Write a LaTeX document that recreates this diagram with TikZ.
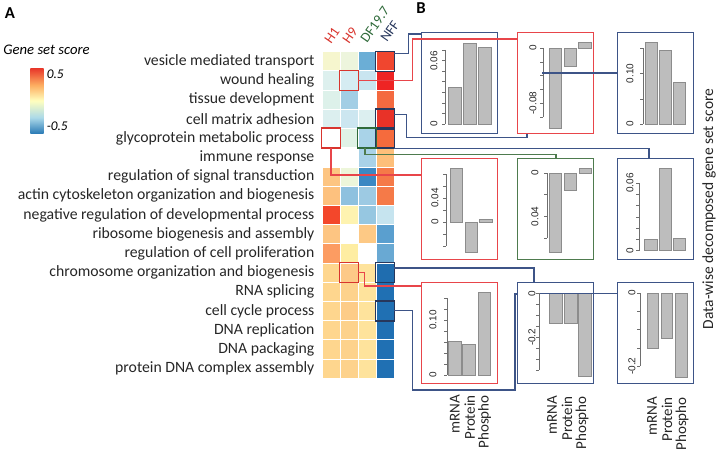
\documentclass[tikz,border=0pt]{standalone}
\usepackage{fontspec}
\setmainfont{Carlito}
\newfontfamily\arialfont{Liberation Sans}
\usetikzlibrary{positioning}

\definecolor{cnavy}{HTML}{3D5487}
\definecolor{cred}{HTML}{E8454A}
\definecolor{cgreen}{HTML}{4E7B4E}
\definecolor{hnavy}{HTML}{27375C}
\definecolor{hred}{HTML}{D8352E}
\definecolor{hgreen}{HTML}{2F6A3A}
\definecolor{bargrey}{HTML}{BDBDBD}
\definecolor{axisgrey}{HTML}{6E6E6E}
\definecolor{sc1}{HTML}{2C7BB6}
\definecolor{sc2}{HTML}{ABD9E9}
\definecolor{sc3}{HTML}{FFFFBF}
\definecolor{sc4}{HTML}{FDAE61}
\definecolor{sc5}{HTML}{E8372A}
\pgfdeclareverticalshading{gsscore}{100bp}{color(0bp)=(sc1); color(25bp)=(sc1);
  color(37bp)=(sc2); color(50bp)=(sc3); color(62bp)=(sc4); color(75bp)=(sc5); color(100bp)=(sc5)}

\tikzset{
  cell/.style={draw=white, line width=0.6pt, minimum width=13.5pt, minimum height=14.4pt, inner sep=0pt},
  rowlab/.style={font=\fontsize{11.8}{13}\selectfont, inner sep=0pt, text=black!85},
  colhead/.style={rotate=55, anchor=base west, inner sep=0pt, font=\fontsize{10.5}{12}\selectfont},
  hl/.style={draw=#1, line width=1.1pt},
  chart/.style={draw=#1, line width=0.9pt, minimum width=57pt, minimum height=75.75pt, inner sep=0pt, anchor=north west},
  bar/.style={fill=bargrey, draw=black!45, line width=0.4pt},
  axis/.style={draw=axisgrey, line width=0.4pt},
  ticklab/.style={rotate=90, inner sep=0pt, font=\arialfont\fontsize{7.5}{8}\selectfont, text=black!85},
  xlab/.style={rotate=90, anchor=east, inner sep=0pt, font=\fontsize{11.3}{13}\selectfont, text=black!85},
  link/.style={draw=#1, line width=0.8pt},
  panel/.style={font=\bfseries\fontsize{12.5}{14}\selectfont}
}

\begin{document}
\begin{tikzpicture}[x=0.75pt, y=-0.75pt]
\useasboundingbox (0,0) rectangle (720,453);

% panel A: legend
\node[panel] (pA) at (10,13) {A};
\node[font=\itshape\fontsize{11}{12}\selectfont] (lgt) at (46.5,50) {Gene set score};
\node[shading=gsscore, minimum width=10pt, minimum height=48.75pt, inner sep=0pt, anchor=north west] (cbar) at (30,68) {};
\node[font=\itshape\fontsize{10}{11}\selectfont, anchor=west, inner sep=0pt] (lmax) at (46.5,74) {0.5};
\node[font=\itshape\fontsize{10}{11}\selectfont, anchor=west, inner sep=0pt] (lmin) at (46.5,126) {-0.5};

% heatmap
\foreach \r/\a/\b/\c/\d/\t in {
  1/F6F6CE/EDF5DD/6BAED6/F0462F/vesicle mediated transport,
  2/DDF0EE/D5ECF2/C9E5F0/EE2424/wound healing,
  3/DDF1EA/A3CEE5/FFFFFF/F46A40/tissue development,
  4/DCEFEF/CCE6F0/DCEFF0/E83228/cell matrix adhesion,
  5/FFFFFF/E0F2E6/A9D3E8/F56B3D/glycoprotein metabolic process,
  6/FFFFFF/FFFFFF/A9D2E8/FDBF7A/immune response,
  7/FDC582/EDF6DA/3B88C3/F57A48/regulation of signal transduction,
  8/FDC17E/8EC1DF/9DCAE3/F57A48/actin cytoskeleton organization and biogenesis,
  9/F3472B/FEF3B0/96C7E1/C6E4EF/negative regulation of developmental process,
  10/FDC582/FFFFFF/FDC985/5A9FCF/ribosome biogenesis and assembly,
  11/FC9C62/FEEDA2/FFFFFF/69A9D3/regulation of cell proliferation,
  12/FED68E/FDC987/FEE39C/1F6DAF/chromosome organization and biogenesis,
  13/FED68E/FDD28C/FEE39C/2070B3/RNA splicing,
  14/FED68E/FDCC88/FEE39C/2070B3/cell cycle process,
  15/FED68E/FDD28C/FEE39C/2070B3/DNA replication,
  16/FED68E/FDD28C/FEE39C/2070B3/DNA packaging,
  17/FED68E/FDD28C/FEE39C/2070B3/protein DNA complex assembly} {
  \definecolor{ca}{HTML}{\a}\definecolor{cb}{HTML}{\b}
  \definecolor{cc}{HTML}{\c}\definecolor{cd}{HTML}{\d}
  \node[cell, fill=ca] (c-\r-1) at (331,{42.1+19.2*\r}) {};
  \node[cell, fill=cb] (c-\r-2) at (349,{42.1+19.2*\r}) {};
  \node[cell, fill=cc] (c-\r-3) at (367,{42.1+19.2*\r}) {};
  \node[cell, fill=cd] (c-\r-4) at (385,{42.1+19.2*\r}) {};
  \node[rowlab, left=5.25pt of c-\r-1] (r\r) {\t};
}
\node[colhead, text=hred] (hH1) at (331,45) {H1};
\node[colhead, text=hred] (hH9) at (349,45) {H9};
\node[colhead, text=hgreen] (hDF) at (367,44) {DF19.7};
\node[colhead, text=hnavy] (hNFF) at (387,43) {NFF};

% highlighted cells
\foreach \c in {c-1-4, c-4-4, c-5-4, c-12-4, c-14-4}
  \draw[hl=hnavy] (\c.north west) rectangle (\c.south east);
\foreach \c in {c-2-2, c-5-1, c-12-2}
  \draw[hl=hred] (\c.north west) rectangle (\c.south east);
\draw[hl=hgreen] (c-5-3.north west) rectangle (c-5-3.south east);

% panel B: bar charts
\node[panel] (pB) at (421,8) {B};
\node[chart=cnavy] (b11) at (421,32) {};
\node[chart=cred] (b21) at (517,32) {};
\node[chart=cnavy] (b31) at (617,32) {};
\node[chart=cred] (b12) at (421,158) {};
\node[chart=cgreen] (b22) at (517,158) {};
\node[chart=cnavy] (b32) at (617,158) {};
\node[chart=cred] (b13) at (421,282) {};
\node[chart=cnavy] (b23) at (517,282) {};
\node[chart=cnavy] (b33) at (617,282) {};

\begin{scope}[shift={(b11.north west)}]
  \draw[bar] (27,55) rectangle (40,92);
  \draw[bar] (42,11) rectangle (55,92);
  \draw[bar] (57,15) rectangle (70,92);
  \draw[axis] (24,18) -- (24,92);
  \foreach \k in {0,...,7} \draw[axis] (21,{92-10.57*\k}) -- (24,{92-10.57*\k});
  \node[ticklab] (l11a) at (13,92) {0};
  \node[ticklab] (l11b) at (13,29) {0.06};
\end{scope}
\begin{scope}[shift={(b21.north west)}]
  \draw[bar] (32,16) rectangle (44.5,96);
  \draw[bar] (47,16) rectangle (59.5,34);
  \draw[bar] (61.5,10) rectangle (74,16);
  \draw[axis] (26,16) -- (26,85);
  \foreach \k in {0,...,5} \draw[axis] (23,{16+13.8*\k}) -- (26,{16+13.8*\k});
  \node[ticklab] (l21a) at (16,16) {0};
  \node[ticklab] (l21b) at (16,71.2) {-0.08};
\end{scope}
\begin{scope}[shift={(b31.north west)}]
  \draw[bar] (28,10) rectangle (40,92);
  \draw[bar] (42,18) rectangle (54,92);
  \draw[bar] (56,50) rectangle (68,92);
  \draw[axis] (26,16.3) -- (26,92);
  \foreach \k in {0,...,3} \draw[axis] (23,{92-25.2*\k}) -- (26,{92-25.2*\k});
  \node[ticklab] (l31a) at (13,92) {0};
  \node[ticklab] (l31b) at (13,41.6) {0.10};
\end{scope}
\begin{scope}[shift={(b12.north west)}]
  \draw[bar] (29,10.3) rectangle (41.7,64);
  \draw[bar] (44,64) rectangle (56,94.7);
  \draw[bar] (58,61.3) rectangle (71,64);
  \draw[axis] (25,16) -- (25,88);
  \foreach \k in {0,...,6} \draw[axis] (22,{16+12*\k}) -- (25,{16+12*\k});
  \node[ticklab] (l12a) at (14,64) {0};
  \node[ticklab] (l12b) at (14,40) {0.04};
\end{scope}
\begin{scope}[shift={(b22.north west)}]
  \draw[bar] (32,15) rectangle (44.7,94.7);
  \draw[bar] (47,15) rectangle (59.7,32.7);
  \draw[bar] (62,10.3) rectangle (74.7,15);
  \draw[axis] (30,15) -- (30,80);
  \foreach \k in {0,...,3} \draw[axis] (27,{15+21.7*\k}) -- (30,{15+21.7*\k});
  \node[ticklab] (l22a) at (18,15) {0};
  \node[ticklab] (l22b) at (18,58.4) {0.04};
\end{scope}
\begin{scope}[shift={(b32.north west)}]
  \draw[bar] (27,81) rectangle (40,92.7);
  \draw[bar] (42,10) rectangle (54,92.7);
  \draw[bar] (56,80) rectangle (68,92.7);
  \draw[axis] (22,24.9) -- (22,92.7);
  \foreach \k in {0,...,6} \draw[axis] (19,{92.7-11.3*\k}) -- (22,{92.7-11.3*\k});
  \node[ticklab] (l32a) at (13,92.7) {0};
  \node[ticklab] (l32b) at (13,24.9) {0.06};
\end{scope}
\begin{scope}[shift={(b13.north west)}]
  \draw[bar] (27.3,59) rectangle (40,93);
  \draw[bar] (41.7,62.3) rectangle (54.7,93);
  \draw[bar] (57.3,10.3) rectangle (69,93);
  \draw[axis] (26.3,16) -- (26.3,93);
  \foreach \k in {0,...,7} \draw[axis] (23.3,{93-11*\k}) -- (26.3,{93-11*\k});
  \node[ticklab] (l13a) at (12,93) {0};
  \node[ticklab] (l13b) at (12,38) {0.10};
\end{scope}
\begin{scope}[shift={(b23.north west)}]
  \draw[bar] (32,11.3) rectangle (45,41);
  \draw[bar] (47,11.3) rectangle (60,41);
  \draw[bar] (61,11.3) rectangle (74,94);
  \draw[axis] (22,11.3) -- (22,88.3);
  \foreach \k in {0,...,7} \draw[axis] (19,{11.3+11*\k}) -- (22,{11.3+11*\k});
  \node[ticklab] (l23a) at (15,11.3) {0};
  \node[ticklab] (l23b) at (15,55.3) {-0.2};
\end{scope}
\begin{scope}[shift={(b33.north west)}]
  \draw[bar] (30,11) rectangle (41,66);
  \draw[bar] (44,11) rectangle (55,56);
  \draw[bar] (58,11) rectangle (70,95);
  \draw[axis] (23,11) -- (23,84.2);
  \foreach \k in {0,...,4} \draw[axis] (20,{11+18.3*\k}) -- (23,{11+18.3*\k});
  \node[ticklab] (l33a) at (15,11) {0};
  \node[ticklab] (l33b) at (15,84.2) {-0.2};
\end{scope}

% data labels
\foreach \n/\x/\y in {1/454.7/395, 2/552/396, 3/652/397} {
  \node[xlab] (m\n) at (\x,\y) {mRNA};
  \node[xlab] (p\n) at (\x+15,\y) {Protein};
  \node[xlab] (q\n) at (\x+30,\y) {Phospho};
}
\node[rotate=90, font=\fontsize{11.6}{13}\selectfont, text=black!85] (ylab) at (709,209) {Data-wise decomposed gene set score};

% connectors
\draw[link=cnavy] ([shift={(0,2.5)}]c-1-4.north east) -- ++(14,0) |- ([shift={(0,2)}]b11.north west);
\draw[link=cred] (c-2-2.east) -- ++(54,0) |- ([shift={(0,7)}]b21.north west);
\draw[link=cnavy] ([shift={(0,-4)}]c-4-4.east) -- ++(12,0) -- ++(0,23) -| ([shift={(10,0)}]b21.south west);
\draw[link=cnavy] ([shift={(25,41)}]b21.north west) -- ([shift={(0,41)}]b31.north west);
\draw[link=cnavy] (c-5-4.south east) -| ([shift={(32,0)}]b32.north west);
\draw[link=cgreen] ([shift={(-2,0)}]c-5-3.south) -- ++(0,6) -| ([shift={(39,0)}]b22.north west);
\draw[link=cred] (c-5-1.south) |- ([shift={(0,17)}]b12.north west);
\draw[link=cnavy] ([shift={(0,-4.5)}]c-12-4.east) -| ([shift={(17,0)}]b23.north west);
\draw[link=cred] (c-12-2.east) -- ++(6,0) |- ([shift={(0,4)}]b13.north west);
\draw[link=cnavy] (c-14-4.east) -- ++(18,0) |- ([shift={(-2,108)}]b23.north west) |- ([shift={(0,12)}]b23.north west);
\draw[link=cnavy] ([shift={(23,11.3)}]b23.north west) -- ([shift={(0,11.3)}]b33.north west);
\end{tikzpicture}
\end{document}
